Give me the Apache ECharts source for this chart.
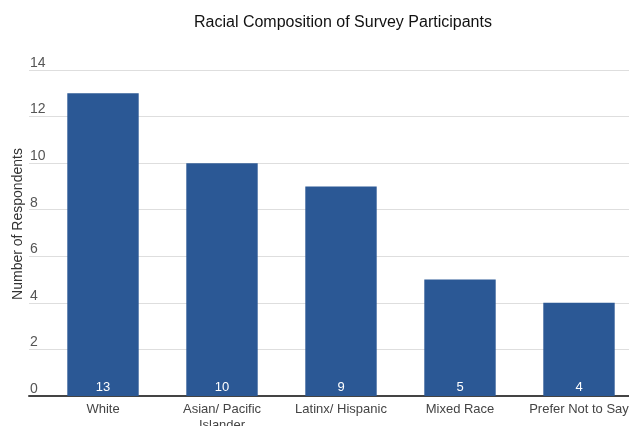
<!DOCTYPE html>
<html><head><meta charset="utf-8">
<script src="https://cdn.jsdelivr.net/npm/echarts@6/dist/echarts.min.js"></script>
<style>html,body{margin:0;padding:0;background:#fff}#c{width:629px;height:426px}</style>
</head><body><div id="c"></div>
<script>
const categories = ["White", "Asian/ Pacific\nIslander", "Latinx/ Hispanic", "Mixed Race", "Prefer Not to Say"];
const counts = [13, 10, 9, 5, 4];
const yTicks = [0, 2, 4, 6, 8, 10, 12, 14];

const font = "'Liberation Sans', Arial, sans-serif";
const chart = echarts.init(document.getElementById('c'), null, {renderer: 'canvas'});
chart.setOption({
  animation: false,
  title: {
    text: "Racial Composition of Survey Participants",
    left: 189, top: 10,
    textStyle: {fontFamily: font, fontSize: 16, fontWeight: 'normal', color: '#111'}
  },
  grid: [
    {left: 29, right: 0, top: 70, bottom: 30, outerBoundsMode: 'none', containLabel: false},
    {left: 43.5, right: -9.5, top: 70, bottom: 30, outerBoundsMode: 'none', containLabel: false}
  ],
  xAxis: [
    {gridIndex: 0, type: 'value', min: 0, max: 1, axisLabel: {show: false}, axisTick: {show: false},
     splitLine: {show: false}, axisLine: {show: true, lineStyle: {color: '#444', width: 2}}},
    {gridIndex: 1, type: 'category', data: categories, axisTick: {show: false},
     axisLine: {show: false},
     axisLabel: {fontFamily: font, fontSize: 13, color: '#444', margin: 5, lineHeight: 16, interval: 0}}
  ],
  yAxis: [
    {gridIndex: 0, type: 'value', min: yTicks[0], max: yTicks[yTicks.length-1], interval: 2,
     name: "Number of Respondents", nameLocation: 'middle', nameGap: 4, nameMoveOverlap: false,
     nameTextStyle: {fontFamily: font, fontSize: 14, color: '#333', padding: [0, 0, 0, 18]},
     axisLine: {show: false}, axisTick: {show: false},
     axisLabel: {fontFamily: font, fontSize: 14, color: '#555', align: 'left', margin: -1,
                 verticalAlign: 'bottom', padding: [0, 0, 0, 0]},
     splitLine: {lineStyle: {color: '#dedede', width: 1}}},
    {gridIndex: 1, type: 'value', min: 0, max: 14, show: false}
  ],
  series: [{
    type: 'bar', xAxisIndex: 1, yAxisIndex: 1,
    data: counts, barCategoryGap: '40%',
    itemStyle: {color: '#2b5895'},
    label: {show: true, position: 'insideBottom', distance: 2, color: '#fff',
            fontFamily: font, fontSize: 13}
  }]
});
</script></body></html>
